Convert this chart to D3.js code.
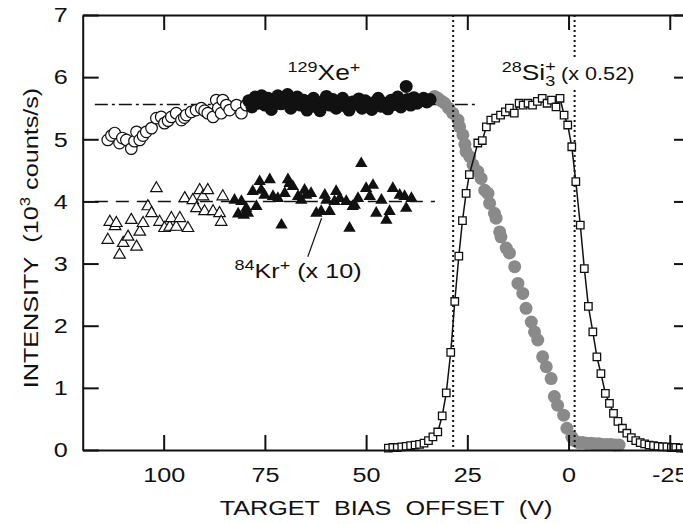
<!DOCTYPE html>
<html lang="en">
    <head>
        <meta charset="utf-8">
        <title>Target bias offset</title>
        <script src="https://d3js.org/d3.v7.min.js"></script>
        <style type="text/css">
            body { margin: 0; background: #fff; }
            text { font-family: "Liberation Sans", Arial, sans-serif; fill: #111; }
        </style>
    </head>
    <body>
        <script>
            // data (x = target bias offset in V, y = 10^3 counts/s)
            var xeOpenX = [113.8, 112.9, 112.1, 110.9, 110.2, 109.2, 108.0, 107.2, 106.7, 105.9, 105.1, 104.3, 103.0, 101.8, 100.6, 99.8, 98.9, 98.1, 96.9, 95.6, 94.9, 94.4, 93.2, 92.0, 90.7, 89.9, 89.1, 87.8, 87.0, 86.5, 85.8, 85.4, 84.5, 83.7, 82.0, 80.8, 79.6];
            var xeOpenY = [4.99, 5.06, 5.10, 4.94, 5.02, 4.99, 4.85, 4.97, 5.12, 4.99, 5.06, 5.12, 5.18, 5.34, 5.36, 5.26, 5.30, 5.36, 5.42, 5.31, 5.35, 5.39, 5.44, 5.47, 5.50, 5.46, 5.42, 5.36, 5.63, 5.50, 5.42, 5.63, 5.55, 5.47, 5.55, 5.42, 5.55];

            var xeFullX = [79.0, 78.2, 77.4, 76.6, 75.8, 75.0, 74.2, 73.4, 72.6, 71.8, 71.0, 70.2, 69.4, 68.6, 67.8, 67.0, 66.2, 65.4, 64.6, 63.8, 63.0, 62.2, 61.4, 60.6, 59.8, 59.0, 58.2, 57.4, 56.6, 55.8, 55.0, 54.2, 53.4, 52.6, 51.8, 51.0, 50.2, 49.4, 48.6, 47.8, 47.0, 46.2, 45.4, 44.6, 43.8, 43.0, 42.2, 41.4, 40.6, 40.1, 39.8, 39.0, 38.2, 37.4, 36.6, 35.8, 35.0, 34.2];
            var xeFullY = [5.62, 5.52, 5.68, 5.58, 5.70, 5.55, 5.66, 5.48, 5.62, 5.70, 5.57, 5.65, 5.72, 5.50, 5.60, 5.68, 5.55, 5.63, 5.47, 5.58, 5.66, 5.52, 5.46, 5.61, 5.69, 5.55, 5.64, 5.50, 5.58, 5.66, 5.53, 5.47, 5.60, 5.57, 5.65, 5.50, 5.62, 5.55, 5.48, 5.60, 5.66, 5.53, 5.58, 5.49, 5.63, 5.56, 5.68, 5.52, 5.60, 5.85, 5.64, 5.55, 5.67, 5.58, 5.62, 5.66, 5.60, 5.64];

            var xeGrayX = [33.1, 32.3, 31.5, 30.6, 29.6, 28.6, 27.3, 26.9, 26.1, 25.6, 25.3, 24.4, 23.6, 22.4, 21.6, 20.7, 19.9, 19.5, 18.3, 17.9, 17.0, 16.7, 15.4, 14.6, 13.3, 12.5, 11.3, 10.5, 9.2, 8.4, 7.6, 6.4, 5.5, 4.3, 3.5, 2.7, 1.2, 0.4, -0.8, -1.5, -2.5, -3.5, -4.5, -5.5, -6.5, -7.5, -8.5, -9.5, -10.5, -11.5, -12.5];
            var xeGrayY = [5.69, 5.66, 5.62, 5.58, 5.50, 5.42, 5.31, 5.20, 5.07, 4.92, 4.80, 4.72, 4.59, 4.48, 4.37, 4.18, 4.13, 3.97, 3.81, 3.73, 3.51, 3.43, 3.25, 3.17, 2.95, 2.68, 2.52, 2.28, 2.06, 1.90, 1.77, 1.50, 1.34, 1.15, 0.86, 0.72, 0.56, 0.35, 0.21, 0.15, 0.12, 0.12, 0.11, 0.11, 0.10, 0.10, 0.09, 0.09, 0.09, 0.08, 0.08];

            var krOpenX = [113.8, 113.3, 112.0, 111.7, 110.9, 110.0, 108.8, 108.0, 106.7, 105.9, 105.1, 103.9, 103.0, 101.8, 101.0, 99.8, 98.5, 98.1, 96.9, 96.0, 94.8, 94.0, 92.8, 91.9, 91.1, 90.3, 89.9, 89.1, 87.8, 86.2, 85.8, 85.4];
            var krOpenY = [3.38, 3.67, 3.60, 3.65, 3.14, 3.33, 3.43, 3.70, 3.27, 3.51, 3.65, 3.92, 3.81, 4.21, 3.67, 3.57, 3.59, 3.73, 3.59, 3.73, 4.05, 3.57, 4.02, 3.89, 4.18, 4.08, 3.84, 4.18, 3.84, 3.81, 3.67, 4.08];

            var krFullX = [82.5, 81.6, 80.8, 80.2, 79.6, 79.2, 78.0, 77.1, 76.3, 75.9, 75.1, 73.8, 73.0, 71.8, 70.9, 70.1, 69.3, 68.9, 68.1, 66.8, 66.0, 65.2, 64.8, 63.6, 62.3, 61.1, 60.2, 59.8, 59.0, 57.8, 57.4, 56.5, 54.9, 54.1, 53.3, 52.8, 52.0, 51.2, 50.0, 49.1, 48.3, 47.5, 46.2, 45.0, 44.2, 43.4, 41.7, 40.5, 40.1, 38.8];
            var krFullY = [4.02, 3.80, 4.00, 3.78, 3.89, 3.81, 4.16, 3.92, 4.32, 4.18, 4.10, 4.35, 4.08, 4.05, 3.62, 4.13, 4.35, 4.29, 4.24, 4.08, 4.02, 4.18, 4.10, 4.13, 3.81, 3.84, 4.10, 4.02, 3.84, 4.00, 4.16, 4.05, 4.00, 3.57, 3.92, 3.94, 4.05, 4.61, 4.21, 4.08, 4.26, 3.81, 4.02, 3.70, 3.84, 4.21, 4.10, 4.08, 3.89, 4.05];

            var siX = [44.5, 43.4, 42.3, 41.2, 40.1, 39.0, 37.9, 36.8, 35.7, 34.6, 33.5, 32.3, 31.2, 30.2, 29.1, 28.1, 27.1, 26.2, 25.3, 24.5, 22.4, 21.3, 20.3, 19.2, 18.0, 16.8, 15.6, 14.6, 13.4, 12.2, 11.2, 10.0, 8.9, 7.7, 6.5, 5.3, 4.2, 3.1, 2.1, 1.1, 0.2, -0.8, -1.8, -2.9, -3.9, -4.9, -6.0, -7.0, -8.0, -9.1, -10.1, -11.1, -12.2, -13.3, -14.4, -15.5, -16.6, -17.7, -18.8, -19.9, -21.0, -22.1, -23.2, -24.3, -25.4, -26.5, -27.6, -28.7, -29.8];
            var siY = [0.03, 0.04, 0.04, 0.05, 0.06, 0.07, 0.08, 0.09, 0.11, 0.15, 0.21, 0.29, 0.55, 0.92, 1.57, 2.39, 3.12, 3.69, 4.13, 4.43, 4.94, 4.98, 5.20, 5.31, 5.34, 5.39, 5.44, 5.50, 5.42, 5.58, 5.55, 5.58, 5.55, 5.61, 5.66, 5.58, 5.63, 5.52, 5.66, 5.39, 5.23, 4.88, 4.32, 3.62, 2.92, 2.31, 1.90, 1.50, 1.23, 0.91, 0.75, 0.59, 0.46, 0.35, 0.27, 0.20, 0.15, 0.12, 0.10, 0.08, 0.07, 0.06, 0.05, 0.05, 0.04, 0.04, 0.03, 0.03, 0.03];

            var xTicks = [100, 75, 50, 25, 0, -25];
            var yTicks = [0, 1, 2, 3, 4, 5, 6, 7];
            var xeLevel = 5.56;   // dash-dot guide
            var krLevel = 4.0;    // dashed guide
            var cutoffs = [28.5, -1.5];  // dotted verticals

            // configuration code
            var outerWidth = 683;
            var outerHeight = 524;
            var plotLeft = 82.7, plotRight = 690, plotTop = 15, plotBottom = 450;
            var sx = 1.2;  // the scan is stretched sideways, so is the lettering

            var xScale = d3.scaleLinear().domain([120, -30]).range([plotLeft, plotRight]);
            var yScale = d3.scaleLinear().domain([0, 7]).range([plotBottom, plotTop]);

            function pts(xs, ys) {
                return xs.map(function (d, i) { return { x: d, y: ys[i] }; });
            }
            function plain(d) { return String(d); }

            var svg = d3.select("body").append("svg")
                .attr("width", outerWidth)
                .attr("height", outerHeight);

            // guide lines
            svg.append("line")
                .attr("x1", xScale(117)).attr("x2", xScale(22.5))
                .attr("y1", yScale(xeLevel)).attr("y2", yScale(xeLevel))
                .attr("stroke", "#111").attr("stroke-width", 1.6)
                .attr("stroke-dasharray", "13,4,3,4");
            svg.append("line")
                .attr("x1", xScale(117)).attr("x2", xScale(33))
                .attr("y1", yScale(krLevel)).attr("y2", yScale(krLevel))
                .attr("stroke", "#111").attr("stroke-width", 1.6)
                .attr("stroke-dasharray", "13,8");

            // Xe+ circles
            svg.append("g").selectAll("circle").data(pts(xeOpenX, xeOpenY)).enter().append("circle")
                .attr("cx", function (d) { return xScale(d.x); })
                .attr("cy", function (d) { return yScale(d.y); })
                .attr("r", 5.8)
                .attr("fill", "#fff").attr("stroke", "#111").attr("stroke-width", 1.2);
            svg.append("g").selectAll("circle").data(pts(xeGrayX, xeGrayY)).enter().append("circle")
                .attr("cx", function (d) { return xScale(d.x); })
                .attr("cy", function (d) { return yScale(d.y); })
                .attr("r", 6.5)
                .attr("fill", "#8a8a8a");
            svg.append("g").selectAll("circle").data(pts(xeFullX, xeFullY)).enter().append("circle")
                .attr("cx", function (d) { return xScale(d.x); })
                .attr("cy", function (d) { return yScale(d.y); })
                .attr("r", 6.5)
                .attr("fill", "#111");

            // Kr+ triangles
            var triOpen = d3.symbol().type(d3.symbolTriangle).size(58);
            var triFull = d3.symbol().type(d3.symbolTriangle).size(66);
            svg.append("g").selectAll("path").data(pts(krOpenX, krOpenY)).enter().append("path")
                .attr("d", triOpen)
                .attr("transform", function (d) { return "translate(" + xScale(d.x) + "," + yScale(d.y) + ")"; })
                .attr("fill", "#fff").attr("stroke", "#111").attr("stroke-width", 1.2);
            svg.append("g").selectAll("path").data(pts(krFullX, krFullY)).enter().append("path")
                .attr("d", triFull)
                .attr("transform", function (d) { return "translate(" + xScale(d.x) + "," + yScale(d.y) + ")"; })
                .attr("fill", "#111");

            // dotted verticals
            svg.append("g").selectAll("line").data(cutoffs).enter().append("line")
                .attr("x1", function (d) { return xScale(d); })
                .attr("x2", function (d) { return xScale(d); })
                .attr("y1", plotTop).attr("y2", plotBottom)
                .attr("stroke", "#111").attr("stroke-width", 2)
                .attr("stroke-dasharray", "2,3");

            // Si3+ squares with line
            var siPts = pts(siX, siY);
            var line = d3.line()
                .x(function (d) { return xScale(d.x); })
                .y(function (d) { return yScale(d.y); });
            svg.append("path").datum(siPts)
                .attr("d", line)
                .attr("fill", "none").attr("stroke", "#111").attr("stroke-width", 1.5);
            svg.append("g").selectAll("path").data(siPts).enter().append("path")
                .attr("d", d3.symbol().type(d3.symbolSquare).size(56))
                .attr("transform", function (d) { return "translate(" + xScale(d.x) + "," + yScale(d.y) + ")"; })
                .attr("fill", "#fff").attr("stroke", "#111").attr("stroke-width", 1.3);

            // axes, ticks pointing inward
            function styleAxis(g) {
                g.select(".domain").attr("stroke", "#111").attr("stroke-width", 2);
                g.selectAll(".tick line").attr("stroke", "#111").attr("stroke-width", 2);
                g.selectAll(".tick text").attr("font-family", null).attr("font-size", 21).attr("fill", "#111");
            }
            var xAxis = svg.append("g")
                .attr("transform", "translate(0," + plotBottom + ")")
                .call(d3.axisBottom(xScale).tickValues(xTicks).tickFormat(plain).tickSize(-15).tickSizeOuter(0).tickPadding(17))
                .call(styleAxis);
            xAxis.selectAll(".tick text").attr("transform", "scale(" + sx + ",1)");
            svg.append("g")
                .attr("transform", "translate(0," + plotTop + ")")
                .call(d3.axisTop(xScale).tickValues(xTicks).tickSize(-15).tickSizeOuter(0).tickFormat(""))
                .call(styleAxis);
            var yAxis = svg.append("g")
                .attr("transform", "translate(" + plotLeft + ",0)")
                .call(d3.axisLeft(yScale).tickValues(yTicks).tickFormat(plain).tickSize(-16).tickSizeOuter(0).tickPadding(15))
                .call(styleAxis);
            yAxis.selectAll(".tick text").attr("x", 0).attr("transform", "translate(-15,0) scale(" + sx + ",1)");
            svg.append("g")
                .attr("transform", "translate(" + plotRight + ",0)")
                .call(d3.axisRight(yScale).tickValues(yTicks).tickSize(-16).tickSizeOuter(0).tickFormat(""))
                .call(styleAxis);

            // axis titles
            svg.append("text")
                .attr("transform", "translate(386,515) scale(" + sx + ",1)")
                .attr("text-anchor", "middle").attr("font-size", 21)
                .text("TARGET\u00a0\u00a0BIAS\u00a0\u00a0OFFSET\u00a0\u00a0(V)");
            var yt = svg.append("text")
                .attr("transform", "translate(38,238) rotate(-90) scale(" + sx + ",1)")
                .attr("text-anchor", "middle").attr("font-size", 21);
            yt.append("tspan").text("INTENSITY\u00a0\u00a0(10");
            yt.append("tspan").attr("font-size", 14).attr("dy", -8).text("3");
            yt.append("tspan").attr("dy", 8).text("\u00a0counts/s)");

            // series labels
            function label(xv, yv) {
                var g = svg.append("g")
                    .attr("transform", "translate(" + xScale(xv) + "," + yScale(yv) + ") scale(" + sx + ",1)");
                g.append("rect").attr("fill", "#fff");
                return g.append("text").attr("font-size", 22);
            }
            function backdrop(t) {
                var b = t.node().getBBox();
                d3.select(t.node().parentNode).select("rect")
                    .attr("x", b.x - 1).attr("y", b.y).attr("width", b.width + 2).attr("height", b.height);
            }
            var xe = label(69.4, 5.95);
            xe.append("tspan").attr("font-size", 15).attr("dy", -8).text("129");
            xe.append("tspan").attr("dy", 8).text("Xe");
            xe.append("tspan").attr("font-size", 15).attr("dy", -8).text("+");

            var si = label(16.5, 5.95);
            si.append("tspan").attr("font-size", 15).attr("dy", -8).text("28");
            si.append("tspan").attr("dy", 8).text("Si");
            si.append("tspan").attr("font-size", 15).attr("dy", -9).text("+");
            si.append("tspan").attr("font-size", 15).attr("dx", -8.8).attr("dy", 15).text("3");
            si.append("tspan").attr("font-size", 18).attr("dy", -6).text("\u00a0(x\u00a00.52)");
            backdrop(si);

            var kr = label(82.5, 2.77).attr("font-size", 21);
            kr.append("tspan").attr("font-size", 15).attr("dy", -8).text("84");
            kr.append("tspan").attr("dy", 8).text("Kr");
            kr.append("tspan").attr("font-size", 15).attr("dy", -8).text("+");
            kr.append("tspan").attr("dy", 8).text("\u00a0(x\u00a010)");

            svg.append("line")
                .attr("x1", xScale(64.4)).attr("y1", yScale(3.11))
                .attr("x2", xScale(61.0)).attr("y2", yScale(3.73))
                .attr("stroke", "#111").attr("stroke-width", 1.2);
        </script>
    </body>
</html>
